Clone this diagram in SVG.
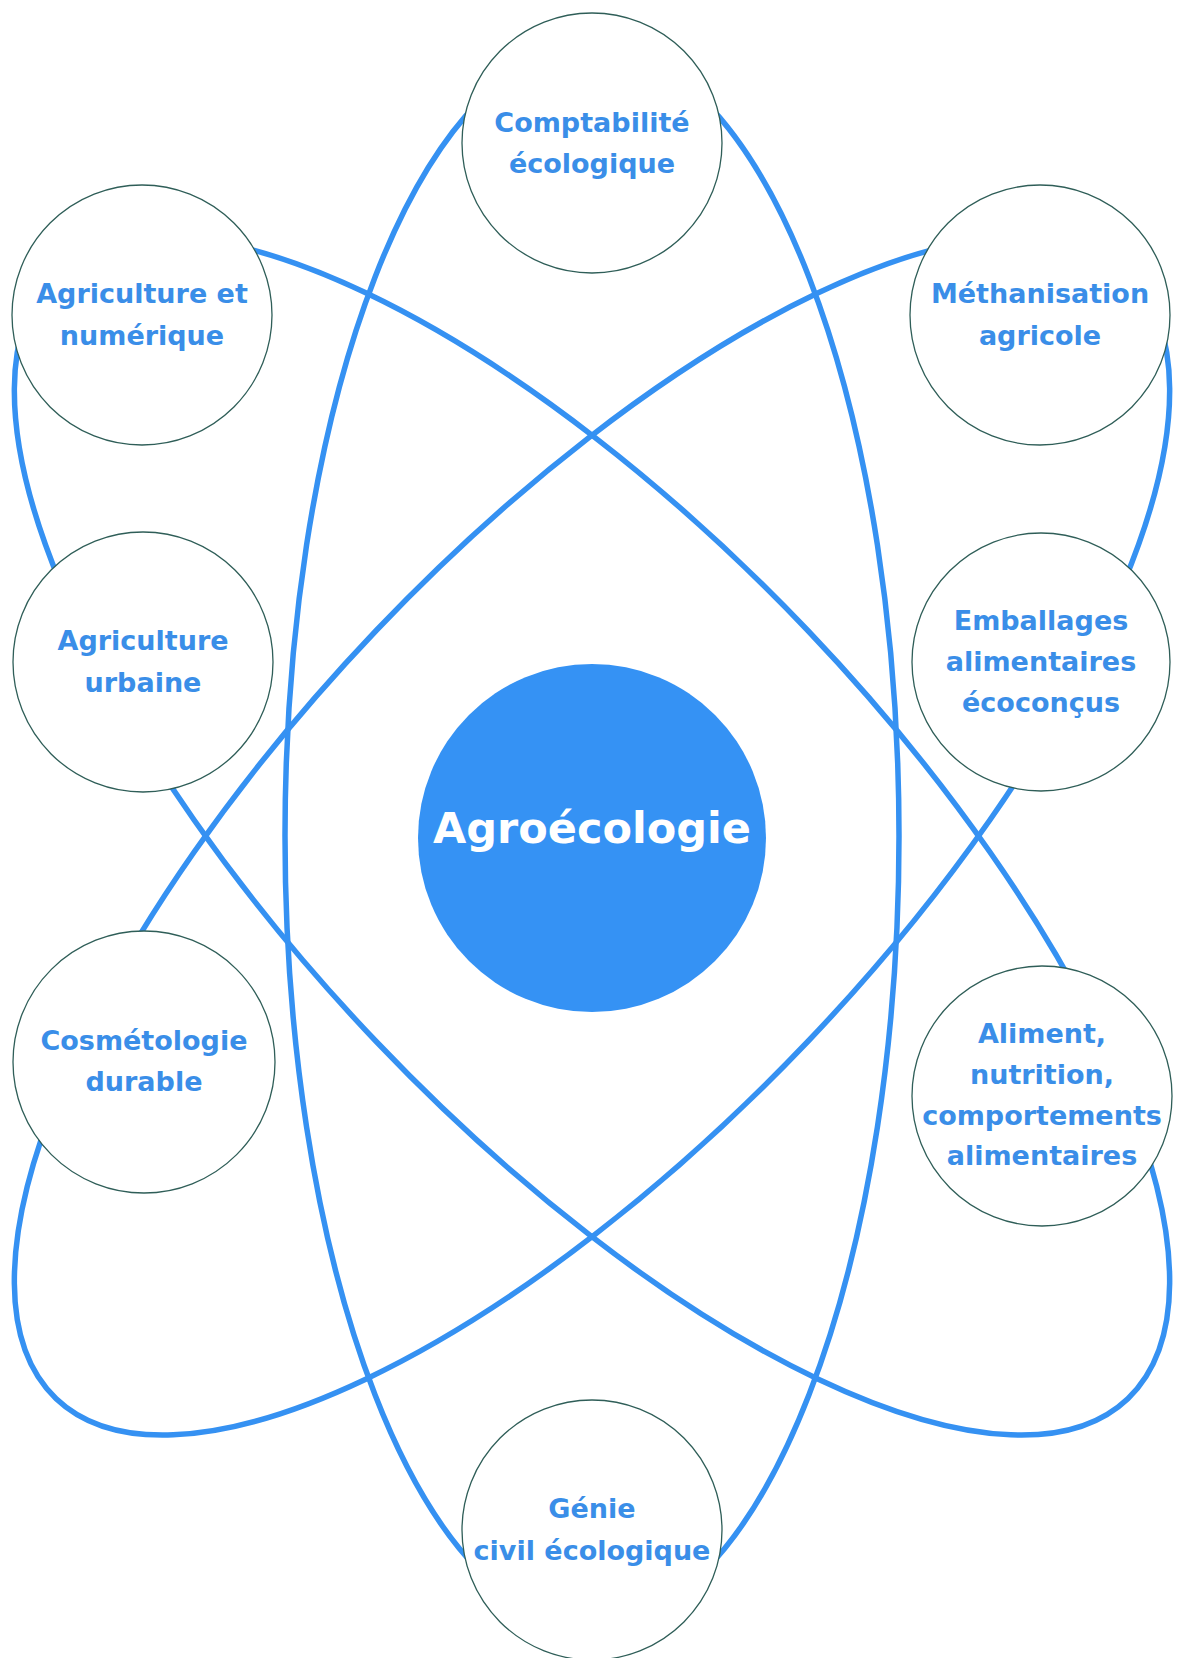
<svg xmlns="http://www.w3.org/2000/svg" width="1178" height="1658" viewBox="0 0 1178 1658">
<style>
.orbit{fill:none;stroke:#3591F2;stroke-width:5.5}
.node circle{fill:#ffffff;stroke:#2F5E58;stroke-width:1.3}
.node text{font-family:"DejaVu Sans","Liberation Sans",sans-serif;font-weight:bold;font-size:27px;fill:#3A8EE8;text-anchor:middle}
#center circle{fill:#3592F4;stroke:none}
#center text{font-family:"DejaVu Sans","Liberation Sans",sans-serif;font-weight:bold;font-size:43px;fill:#ffffff;text-anchor:middle}
</style>
<rect width="1178" height="1658" fill="#ffffff"/>
<g id="connectors">
<ellipse class="orbit" cx="592" cy="836" rx="307" ry="790"/>
<ellipse class="orbit" cx="592" cy="836" rx="777" ry="298" transform="rotate(46.4 592 836)"/>
<ellipse class="orbit" cx="592" cy="836" rx="777" ry="298" transform="rotate(-46.4 592 836)"/>
</g>
<g id="center">
<circle cx="592" cy="838" r="174"/>
<text x="592" y="843">Agroécologie</text>
</g>
<g id="comptabilite" class="node">
<circle cx="592" cy="143" r="130"/>
<text x="592" y="132">Comptabilité</text>
<text x="592" y="173">écologique</text>
</g>
<g id="agri-numerique" class="node">
<circle cx="142" cy="315" r="130"/>
<text x="142" y="303">Agriculture et</text>
<text x="142" y="345">numérique</text>
</g>
<g id="methanisation" class="node">
<circle cx="1040" cy="315" r="130"/>
<text x="1040" y="303">Méthanisation</text>
<text x="1040" y="345">agricole</text>
</g>
<g id="agri-urbaine" class="node">
<circle cx="143" cy="662" r="130"/>
<text x="143" y="650">Agriculture</text>
<text x="143" y="692">urbaine</text>
</g>
<g id="emballages" class="node">
<circle cx="1041" cy="662" r="129"/>
<text x="1041" y="630">Emballages</text>
<text x="1041" y="671">alimentaires</text>
<text x="1041" y="712">écoconçus</text>
</g>
<g id="cosmetologie" class="node">
<circle cx="144" cy="1062" r="131"/>
<text x="144" y="1050">Cosmétologie</text>
<text x="144" y="1091">durable</text>
</g>
<g id="aliment" class="node">
<circle cx="1042" cy="1096" r="130"/>
<text x="1042" y="1043">Aliment,</text>
<text x="1042" y="1084">nutrition,</text>
<text x="1042" y="1125">comportements</text>
<text x="1042" y="1165">alimentaires</text>
</g>
<g id="genie" class="node">
<circle cx="592" cy="1530" r="130"/>
<text x="592" y="1518">Génie</text>
<text x="592" y="1560">civil écologique</text>
</g>
</svg>
